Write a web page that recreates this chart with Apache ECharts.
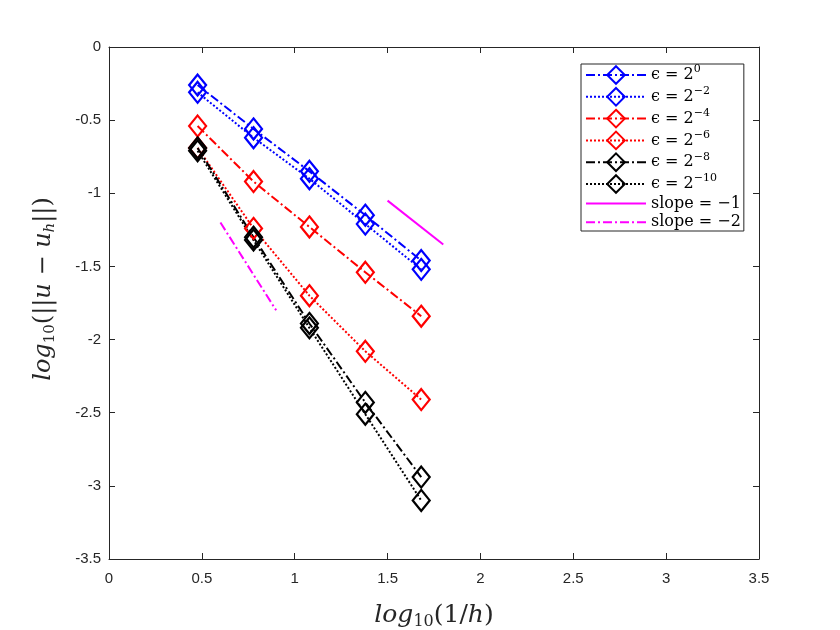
<!DOCTYPE html>
<html>
<head>
<meta charset="utf-8">
<script src="https://cdn.jsdelivr.net/npm/echarts@6/dist/echarts.min.js"></script>
<style>
  html, body { margin: 0; padding: 0; background: #fff; }
  #main { width: 840px; height: 630px; }
</style>
</head>
<body>
<div id="main"></div>
<script>
// log10(1/h) for h = 1/3, 1/6, 1/12, 1/24, 1/48
var xh = [0.4771, 0.7782, 1.0792, 1.3802, 1.6812];

// log10 of the error
var e0 = [-0.26, -0.56, -0.85, -1.15, -1.46];
var e2 = [-0.31, -0.62, -0.90, -1.21, -1.52];
var e4 = [-0.54, -0.92, -1.23, -1.54, -1.84];
var e6 = [-0.69, -1.24, -1.70, -2.08, -2.41];
var e8 = [-0.69, -1.30, -1.89, -2.43, -2.94];
var e10 = [-0.71, -1.32, -1.92, -2.51, -3.10];

// reference slope segments
var slope1 = [[1.5, -1.05], [1.8, -1.35]];
var slope2 = [[0.6, -1.2], [0.9, -1.8]];

var names = ["e0", "e2", "e4", "e6", "e8", "e10", "s1", "s2"];
var legendText = {
  e0: "{t|ϵ = 2}{sup|0}",
  e2: "{t|ϵ = 2}{sup|−2}",
  e4: "{t|ϵ = 2}{sup|−4}",
  e6: "{t|ϵ = 2}{sup|−6}",
  e8: "{t|ϵ = 2}{sup|−8}",
  e10: "{t|ϵ = 2}{sup|−10}",
  s1: "{t|slope = −1}",
  s2: "{t|slope = −2}"
};

var dashDot = [9, 3, 2, 3];
var dotted = [2, 2];

function pts(ys) {
  return xh.map(function (x, i) { return [x, ys[i]]; });
}

function marked(name, ys, color, dash) {
  return {
    name: name,
    type: "line",
    data: pts(ys),
    symbol: "diamond",
    symbolSize: [17, 21],
    lineStyle: { color: color, width: 2, type: dash },
    itemStyle: { color: "rgba(0,0,0,0)", borderColor: color, borderWidth: 2.2 }
  };
}

function segment(name, d, dash) {
  return {
    name: name,
    type: "line",
    data: d,
    symbol: "none",
    lineStyle: { color: "#ff00ff", width: 2, type: dash },
    itemStyle: { color: "rgba(0,0,0,0)", borderWidth: 0 }
  };
}

var tick = { show: true, inside: true, length: 6, lineStyle: { color: "#262626" } };
var line = { show: true, onZero: false, lineStyle: { color: "#262626", width: 1 } };
var tickFont = { color: "#262626", fontSize: 15, fontFamily: "Liberation Sans, Arial" };

var serif = "DejaVu Serif";
function mathRich(size) {
  var s = Math.round(size * 0.64);
  return {
    i: { fontFamily: serif, fontStyle: "italic", fontSize: size, color: "#262626", lineHeight: size + 5 },
    n: { fontFamily: serif, fontSize: size, color: "#262626", lineHeight: size + 5 },
    sub: { fontFamily: serif, fontSize: s, color: "#262626", lineHeight: s + 1, verticalAlign: "bottom" },
    subi: { fontFamily: serif, fontStyle: "italic", fontSize: s, color: "#262626", lineHeight: s + 1, verticalAlign: "bottom" }
  };
}

var myChart = echarts.init(document.getElementById("main"), null, { renderer: "canvas" });

var option = {
  animation: false,
  backgroundColor: "#fff",
  grid: { left: 109, right: 81, top: 47, bottom: 71, containLabel: false, outerBoundsMode: "none" },
  legend: {
    orient: "vertical",
    left: 581,
    top: 64,
    padding: [0, 3, 0, 4],
    itemWidth: 60,
    itemHeight: 22,
    itemGap: 1,
    borderColor: "#262626",
    borderWidth: 1,
    backgroundColor: "#fff",
    data: names,
    formatter: function (n) { return legendText[n]; },
    textStyle: {
      rich: {
        t: { fontFamily: serif, fontSize: 16, color: "#000", lineHeight: 22 },
        sup: { fontFamily: serif, fontSize: 11, color: "#000", lineHeight: 14, verticalAlign: "top" }
      }
    }
  },
  xAxis: [
    {
      type: "value", min: 0, max: 3.5, interval: 0.5,
      axisLine: line, axisTick: tick, splitLine: { show: false },
      axisLabel: Object.assign({ margin: 12 }, tickFont),
      name: "{i|log}{sub|10}{n|(1/}{i|h}{n|)}",
      nameLocation: "middle", nameGap: 41,
      nameTextStyle: { rich: mathRich(25) }
    },
    {
      type: "value", position: "top", min: 0, max: 3.5, interval: 0.5,
      axisLine: line, axisTick: tick, axisLabel: { show: false }, splitLine: { show: false }
    }
  ],
  yAxis: [
    {
      type: "value", min: -3.5, max: 0, interval: 0.5,
      axisLine: line, axisTick: tick, splitLine: { show: false },
      axisLabel: Object.assign({ margin: 8 }, tickFont),
      name: "{i|log}{sub|10}{n|(||}{i|u}{n| − }{i|u}{subi|h}{n|||)}",
      nameLocation: "middle", nameGap: 51, nameRotate: 90,
      nameTextStyle: { rich: mathRich(24), padding: [0, 0, 0, 28] }
    },
    {
      type: "value", position: "right", min: -3.5, max: 0, interval: 0.5,
      axisLine: line, axisTick: tick, axisLabel: { show: false }, splitLine: { show: false }
    }
  ],
  series: [
    marked("e0", e0, "#0000ff", dashDot),
    marked("e2", e2, "#0000ff", dotted),
    marked("e4", e4, "#ff0000", dashDot),
    marked("e6", e6, "#ff0000", dotted),
    marked("e8", e8, "#000000", dashDot),
    marked("e10", e10, "#000000", dotted),
    segment("s1", slope1, "solid"),
    segment("s2", slope2, dashDot)
  ]
};

myChart.setOption(option);
window.addEventListener("resize", myChart.resize);
</script>
</body>
</html>
